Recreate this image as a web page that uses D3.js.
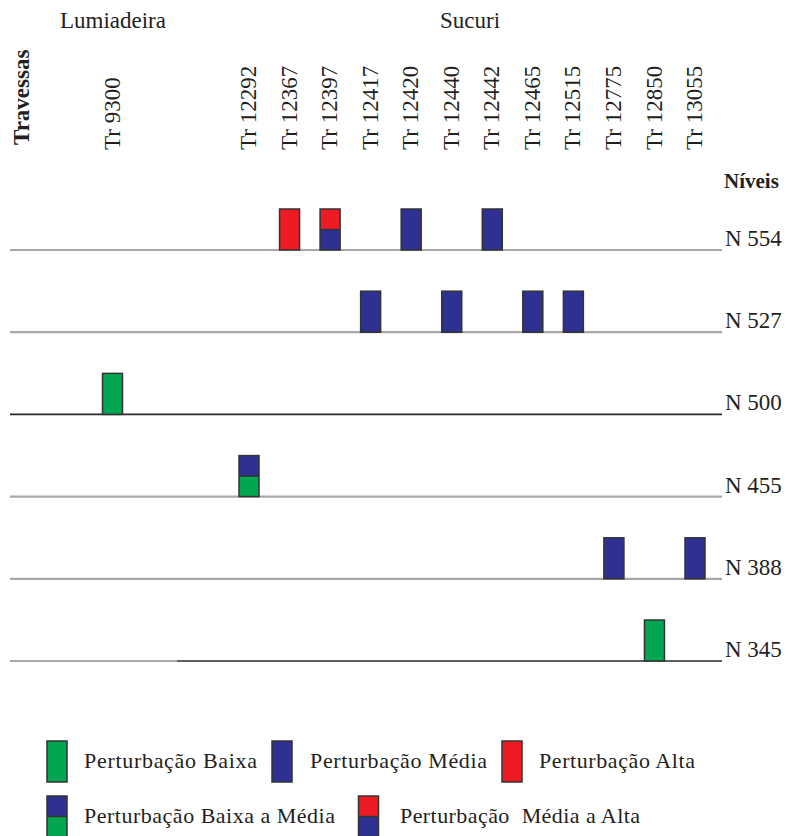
<!DOCTYPE html>
<html>
<head>
<meta charset="utf-8">
<script src="https://cdn.jsdelivr.net/npm/d3@7"></script>
<style>
  html, body { margin: 0; padding: 0; background: #fff; }
  svg { display: block; }
  text { font-family: "Liberation Serif", "Times New Roman", serif; fill: #231f20; }
</style>
</head>
<body>
<svg id="chart" width="790" height="836"></svg>
<script>
// ---------- DATA ----------
const regions = ["Lumiadeira", "Sucuri"];
const lumiadeiraTransects = ["Tr 9300"];
const sucuriTransects = ["Tr 12292", "Tr 12367", "Tr 12397", "Tr 12417", "Tr 12420", "Tr 12440",
  "Tr 12442", "Tr 12465", "Tr 12515", "Tr 12775", "Tr 12850", "Tr 13055"];
const levels = ["N 554", "N 527", "N 500", "N 455", "N 388", "N 345"];

// disturbance classes (legend labels)
const classes = ["Perturbação Baixa", "Perturbação Média", "Perturbação Alta",
  "Perturbação Baixa a Média", "Perturbação  Média a Alta"];

// observations: level, transect, class index
const obsLevel    = ["N 554", "N 554", "N 554", "N 554", "N 527", "N 527", "N 527", "N 527", "N 500", "N 455", "N 388", "N 388", "N 345"];
const obsTransect = ["Tr 12367", "Tr 12397", "Tr 12420", "Tr 12442", "Tr 12417", "Tr 12440", "Tr 12465", "Tr 12515", "Tr 9300", "Tr 12292", "Tr 12775", "Tr 13055", "Tr 12850"];
const obsClass    = [2, 4, 1, 1, 1, 1, 1, 1, 0, 3, 1, 1, 0];

// ---------- STYLE ----------
const GREEN = "#00a651", BLUE = "#2e3192", RED = "#ed1c24";
// fill [top, bottom] for each class
const classFill = [[GREEN, GREEN], [BLUE, BLUE], [RED, RED], [BLUE, GREEN], [RED, BLUE]];
const GRAY_LINE = { stroke: "#a8a8a8", width: 2.2 };
const BLACK_LINE = { stroke: "#2a2a2a", width: 1.6 };
// line segments per level: [x start, style]
const lineStyle = {
  "N 554": [[10, GRAY_LINE]],
  "N 527": [[10, GRAY_LINE]],
  "N 500": [[10, BLACK_LINE]],
  "N 455": [[10, GRAY_LINE]],
  "N 388": [[10, GRAY_LINE]],
  "N 345": [[10, GRAY_LINE], [177, BLACK_LINE]]
};
const FS = 23;

// ---------- SCALES ----------
const xLumi = d3.scalePoint().domain(lumiadeiraTransects).range([60, 165]).align(0.5);
const xSuc = d3.scalePoint().domain(sucuriTransects).range([249, 695]);
const x = t => lumiadeiraTransects.includes(t) ? xLumi(t) : xSuc(t);
const y = d3.scalePoint().domain(levels).range([250, 661]);
const barH = d3.scaleLinear().domain([0, 1]).range([0, 41]);
const barW = 20;
const lineX1 = 722;

const svg = d3.select("#chart");

// ---------- HEADER ----------
svg.append("text").attr("x", 113).attr("y", 28).attr("text-anchor", "middle")
  .style("font-size", FS + "px").text(regions[0]);
svg.append("text").attr("x", 470).attr("y", 28).attr("text-anchor", "middle")
  .style("font-size", FS + "px").text(regions[1]);

svg.append("text")
  .attr("transform", "translate(21,145) rotate(-90)")
  .attr("dy", "0.35em")
  .style("font-size", FS + "px").style("font-weight", "bold")
  .text("Travessas");

const allTransects = lumiadeiraTransects.concat(sucuriTransects);
svg.selectAll("text.tr").data(allTransects).enter().append("text")
  .attr("class", "tr")
  .attr("transform", d => `translate(${x(d) - 1},150) rotate(-90)`)
  .attr("dy", "0.35em")
  .style("font-size", FS + "px")
  .text(d => d);

svg.append("text").attr("x", 724).attr("y", 188)
  .style("font-size", "21px").style("font-weight", "bold").text("Níveis");

// ---------- LEVEL LINES ----------
levels.forEach(lv => {
  const segs = lineStyle[lv];
  segs.forEach((s, i) => {
    const xs = s[0], xe = i + 1 < segs.length ? segs[i + 1][0] : lineX1;
    svg.append("line")
      .attr("x1", xs).attr("x2", xe)
      .attr("y1", y(lv)).attr("y2", y(lv))
      .attr("stroke", s[1].stroke).attr("stroke-width", s[1].width);
  });
  svg.append("text").attr("x", 725).attr("y", y(lv) - 4)
    .style("font-size", FS + "px").text(lv);
});

// ---------- BARS ----------
const obs = obsLevel.map((lv, i) => ({ level: lv, transect: obsTransect[i], cls: obsClass[i] }));

function drawBox(g, cx, base, h, fills) {
  const x0 = cx - barW / 2;
  g.append("rect").attr("x", x0).attr("y", base - h).attr("width", barW).attr("height", h)
    .attr("fill", fills[1]);
  if (fills[0] !== fills[1]) {
    g.append("rect").attr("x", x0).attr("y", base - h).attr("width", barW).attr("height", h / 2)
      .attr("fill", fills[0]);
    g.append("line").attr("x1", x0).attr("x2", x0 + barW)
      .attr("y1", base - h / 2).attr("y2", base - h / 2)
      .attr("stroke", "#333").attr("stroke-width", 1.4);
  }
  g.append("rect").attr("x", x0).attr("y", base - h).attr("width", barW).attr("height", h)
    .attr("fill", "none").attr("stroke", "#333").attr("stroke-width", 1.5);
}

const barsG = svg.append("g");
obs.forEach(o => {
  drawBox(barsG, x(o.transect), y(o.level), barH(1), classFill[o.cls]);
});

// ---------- LEGEND ----------
const legendLayout = [
  { box: 57, text: 84, base: 782, ty: 768, len: 173 },
  { box: 282, text: 310, base: 782, ty: 768, len: 177 },
  { box: 512, text: 539, base: 782, ty: 768, len: 156 },
  { box: 57, text: 84, base: 837, ty: 823, len: 251 },
  { box: 368.5, text: 400, base: 837, ty: 823, len: 240 }
];
const legG = svg.append("g");
classes.forEach((c, i) => {
  const L = legendLayout[i];
  drawBox(legG, L.box, L.base, barH(1), classFill[i]);
  legG.append("text").attr("x", L.text).attr("y", L.ty)
    .attr("textLength", L.len).attr("lengthAdjust", "spacing")
    .style("font-size", "22px").style("white-space", "pre").attr("xml:space", "preserve").text(c);
});
</script>
</body>
</html>
